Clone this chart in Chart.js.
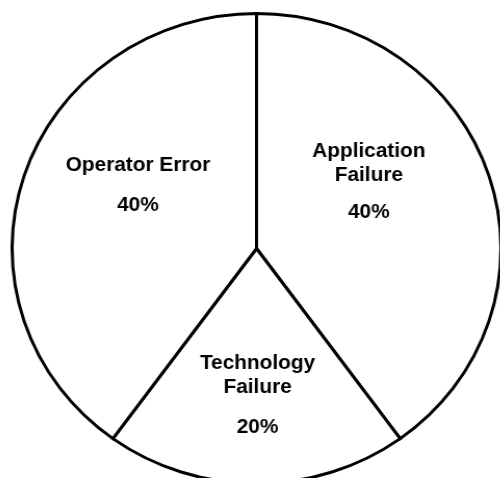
<!DOCTYPE html>
<html>
<head>
<meta charset="utf-8">
<script src="https://cdn.jsdelivr.net/npm/chart.js@4"></script>
<style>
  html, body { margin: 0; padding: 0; background: #fff; }
  body { width: 500px; height: 478px; position: relative; overflow: hidden; }
  #wrap {
    position: absolute; left: 20px; top: 12px; width: 473px; height: 473px;
    transform: scaleX(1.04); transform-origin: 236px 236px;
  }
</style>
</head>
<body>
<div id="wrap"><canvas id="pieChart" width="473" height="473"></canvas></div>
<script>
const categories = ['Application Failure', 'Technology Failure', 'Operator Error'];
const shares = [40, 20, 40];
const labelLines = [['Application', 'Failure'], ['Technology', 'Failure'], ['Operator Error']];

// where each slice's text sits, measured from the pie centre
const labelSpots = [
    { dx: 108, nameY: -97, pctY: -36 },
    { dx: 1, nameY: 115, pctY: 179 },
    { dx: -114, nameY: -83, pctY: -43 }
];

const sliceText = {
    id: 'sliceText',
    afterDatasetsDraw(chart) {
        const ctx = chart.ctx;
        const arcs = chart.getDatasetMeta(0).data;
        ctx.save();
        ctx.fillStyle = '#000';
        ctx.font = 'bold 20px "Liberation Sans", Arial, sans-serif';
        ctx.textAlign = 'center';
        ctx.textBaseline = 'middle';
        arcs.forEach((arc, i) => {
            const spot = labelSpots[i];
            labelLines[i].forEach((line, j) => {
                ctx.fillText(line, arc.x + spot.dx, arc.y + spot.nameY + j * 24);
            });
            ctx.fillText(shares[i] + '%', arc.x + spot.dx, arc.y + spot.pctY);
        });
        ctx.restore();
    }
};

new Chart(document.getElementById('pieChart'), {
    type: 'pie',
    data: {
        labels: categories,
        datasets: [{
            data: shares,
            backgroundColor: '#ffffff',
            borderColor: '#000000',
            borderWidth: 3,
            borderJoinStyle: 'miter'
        }]
    },
    options: {
        responsive: false,
        animation: false,
        layout: { padding: 0 },
        plugins: {
            legend: { display: false },
            tooltip: { enabled: false }
        }
    },
    plugins: [sliceText]
});
</script>
</body>
</html>
